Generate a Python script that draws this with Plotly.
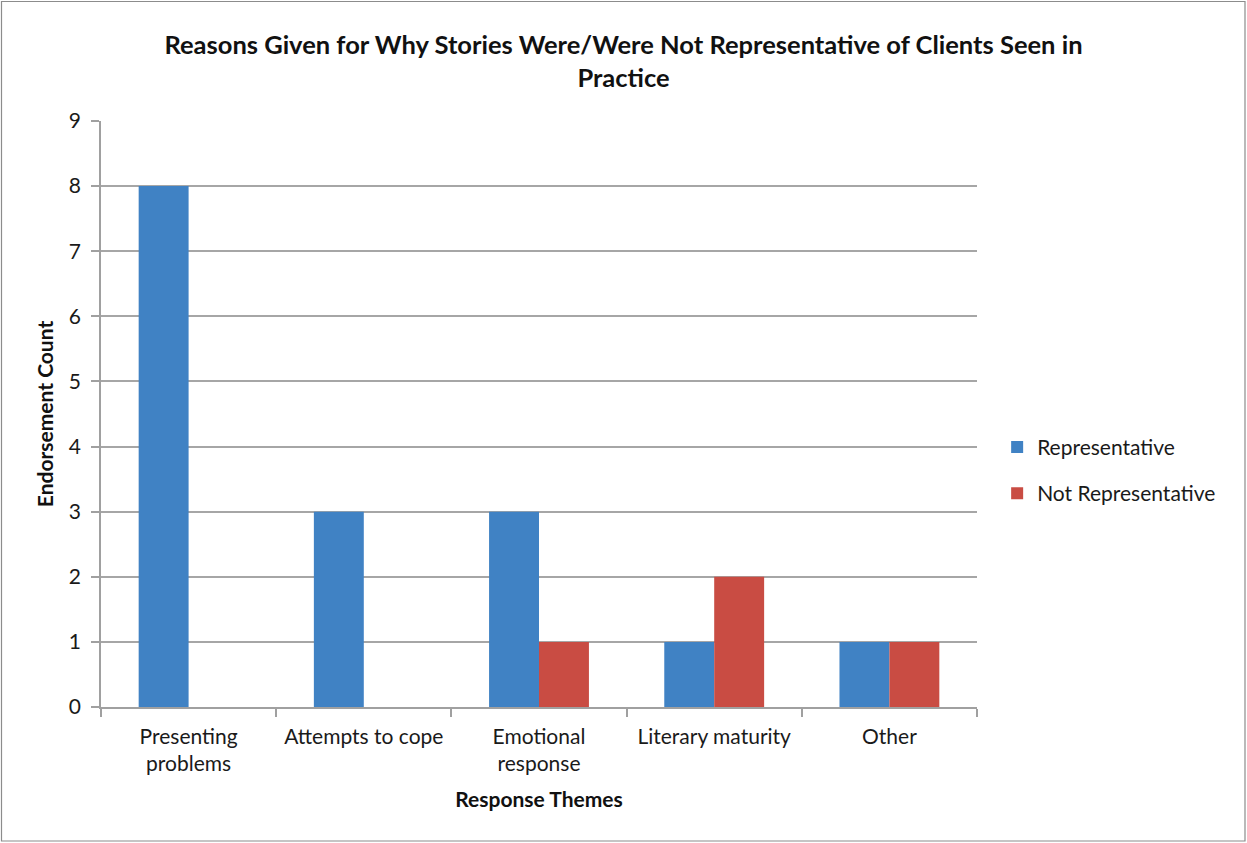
import plotly.graph_objects as go

categories = ["Presenting<br>problems", "Attempts to cope", "Emotional<br>response", "Literary maturity", "Other"]
representative = [8, 3, 3, 1, 1]
not_representative = [0, 0, 1, 2, 1]
y_ticks = list(range(0, 10))

FONT = "Lato"
W, H = 1247, 843
L, R, T, B = 101, 270, 121, 136

fig = go.Figure()
fig.add_trace(go.Bar(
    x=categories, y=representative, name="Representative",
    marker=dict(color="#4082C4", line=dict(width=0)), legendgroup="a",
))
fig.add_trace(go.Bar(
    x=categories, y=not_representative, name="Not Representative",
    marker=dict(color="#C94C43", line=dict(width=0)), legendgroup="b",
))

pw = W - L - R
ph = H - T - B
fig.add_shape(type="rect", xref="paper", yref="paper",
              x0=-(L - 1.5) / pw, x1=1 + (R - 2) / pw,
              y0=-(B - 2) / ph, y1=1 + (T - 1.5) / ph,
              line=dict(color="#8C8C8C", width=1.2), fillcolor="rgba(0,0,0,0)", layer="below")

fig.update_layout(
    width=W, height=H,
    margin=dict(l=L, r=R, t=T, b=B, autoexpand=False),
    paper_bgcolor="white", plot_bgcolor="white",
    font=dict(family=FONT, size=21, color="#1a1a1a"),
    title=dict(text="<b>Reasons Given for Why Stories Were/Were Not Representative of Clients Seen in<br>Practice</b>",
               x=0.5, xanchor="center", xref="container",
               y=1 - 54 / H, yanchor="top", yref="container",
               font=dict(family=FONT, size=25.5, color="#111")),
    barmode="group", bargap=0.43, bargroupgap=0,
    legend=dict(x=1.023, y=0.404, xanchor="left", yanchor="middle",
                font=dict(family=FONT, size=21, color="#1a1a1a"),
                tracegroupgap=16, itemsizing="constant", traceorder="grouped"),
    xaxis=dict(
        title=dict(text="<b>Response Themes</b>", font=dict(family=FONT, size=21, color="#111"), standoff=18),
        showline=True, linecolor="#A0A0A0", linewidth=1.5,
        ticks="outside", tickson="boundaries", ticklen=8, tickcolor="#A0A0A0", tickwidth=1.5,
        showgrid=False, tickfont=dict(family=FONT, size=21), ticklabelstandoff=10,
    ),
    yaxis=dict(
        title=dict(text="<b>Endorsement Count</b>", font=dict(family=FONT, size=21, color="#111"), standoff=10),
        range=[0, 9], tickvals=y_ticks, showline=True, linecolor="#A0A0A0", linewidth=1.5,
        ticks="outside", ticklen=8, tickcolor="#A0A0A0", tickwidth=1.5,
        showgrid=True, gridcolor="#A6A6A6", gridwidth=1.5, zeroline=False,
        tickfont=dict(family=FONT, size=21), ticklabelstandoff=6,
    ),
)

fig.write_html("out.html", config={"displayModeBar": False},
               post_script="document.body.style.margin='0';document.body.style.overflow='hidden';")
